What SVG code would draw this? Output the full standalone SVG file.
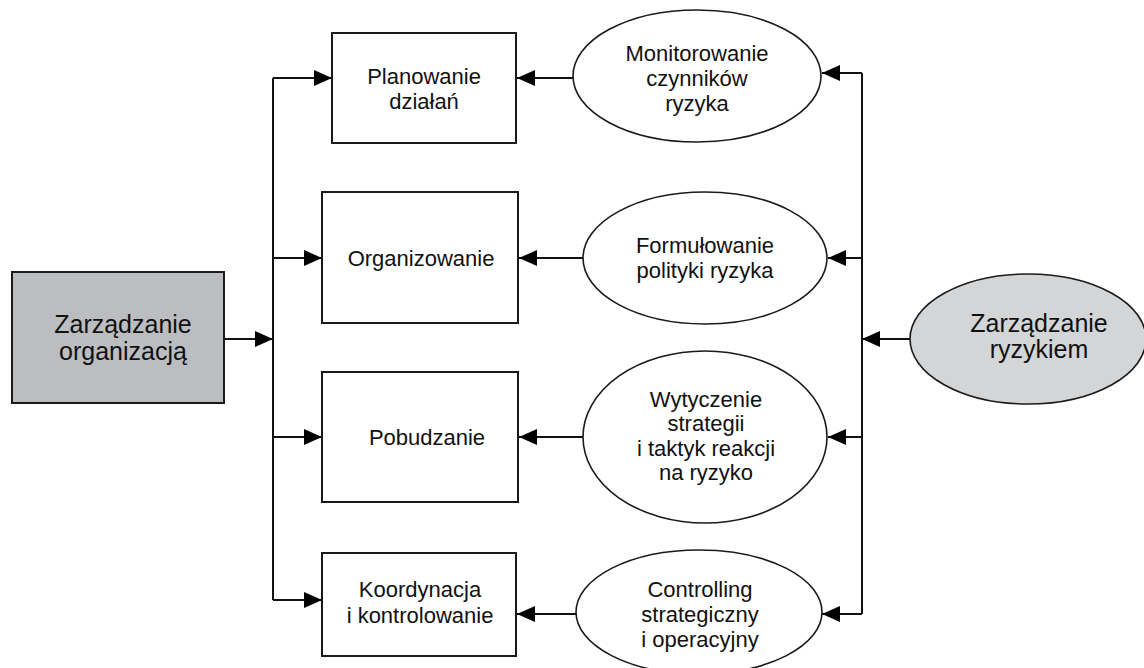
<svg xmlns="http://www.w3.org/2000/svg" width="1144" height="668" viewBox="0 0 1144 668">
<style>
.box{fill:#fff;stroke:#1a1a1a;stroke-width:2}
.el{fill:#fff;stroke:#1a1a1a;stroke-width:1.6}
.t{font-family:"Liberation Sans",Arial,sans-serif;font-size:22px;fill:#111;text-anchor:middle}
.tl{font-family:"Liberation Sans",Arial,sans-serif;font-size:25px;fill:#111;text-anchor:middle}
.c{fill:none;stroke:#111;stroke-width:2}
</style>
<defs>
<marker id="ah" markerUnits="userSpaceOnUse" markerWidth="18" markerHeight="16" refX="18" refY="8" orient="auto">
<path d="M0,0 L18,8 L0,16 z" fill="#000"/>
</marker>
</defs>
<rect width="1144" height="668" fill="#fff"/>
<g id="connectors">
<path class="c" d="M224,339 H273" marker-end="url(#ah)"/>
<path class="c" d="M273,78 V600"/>
<path class="c" d="M273,78 H332" marker-end="url(#ah)"/>
<path class="c" d="M273,258 H322" marker-end="url(#ah)"/>
<path class="c" d="M273,437 H322" marker-end="url(#ah)"/>
<path class="c" d="M273,600 H322" marker-end="url(#ah)"/>
<path class="c" d="M573,78 H517" marker-end="url(#ah)"/>
<path class="c" d="M583,258 H519" marker-end="url(#ah)"/>
<path class="c" d="M583,437 H519" marker-end="url(#ah)"/>
<path class="c" d="M576,614 H517" marker-end="url(#ah)"/>
<path class="c" d="M862,73 V614"/>
<path class="c" d="M862,73 H822" marker-end="url(#ah)"/>
<path class="c" d="M862,258 H828" marker-end="url(#ah)"/>
<path class="c" d="M862,437 H828" marker-end="url(#ah)"/>
<path class="c" d="M862,614 H822" marker-end="url(#ah)"/>
<path class="c" d="M910,339 H862" marker-end="url(#ah)"/>
</g>
<g id="zarzadzanie-organizacja">
<rect x="12" y="272" width="212" height="131" fill="#bcbdc0" stroke="#1a1a1a" stroke-width="2"/>
<text class="tl" x="123" y="333">Zarządzanie</text>
<text class="tl" x="123" y="360">organizacją</text>
</g>
<g id="planowanie">
<rect class="box" x="332" y="33" width="184" height="110"/>
<text class="t" x="424" y="84">Planowanie</text>
<text class="t" x="424" y="109">działań</text>
</g>
<g id="organizowanie">
<rect class="box" x="322" y="192" width="196" height="131"/>
<text class="t" x="421" y="266">Organizowanie</text>
</g>
<g id="pobudzanie">
<rect class="box" x="322" y="372" width="196" height="130"/>
<text class="t" x="427" y="445">Pobudzanie</text>
</g>
<g id="koordynacja">
<rect class="box" x="322" y="553" width="194" height="103"/>
<text class="t" x="420" y="597">Koordynacja</text>
<text class="t" x="420" y="623">i kontrolowanie</text>
</g>
<g id="monitorowanie">
<ellipse class="el" cx="697" cy="76" rx="124" ry="66"/>
<text class="t" x="697" y="61">Monitorowanie</text>
<text class="t" x="697" y="86">czynników</text>
<text class="t" x="697" y="111">ryzyka</text>
</g>
<g id="formulowanie">
<ellipse class="el" cx="705" cy="258" rx="122" ry="66"/>
<text class="t" x="705" y="253">Formułowanie</text>
<text class="t" x="705" y="278">polityki ryzyka</text>
</g>
<g id="wytyczenie">
<ellipse class="el" cx="705" cy="437" rx="122" ry="86"/>
<text class="t" x="706" y="407">Wytyczenie</text>
<text class="t" x="706" y="431">strategii</text>
<text class="t" x="706" y="456">i taktyk reakcji</text>
<text class="t" x="706" y="480">na ryzyko</text>
</g>
<g id="controlling">
<ellipse class="el" cx="699" cy="612" rx="123" ry="62"/>
<text class="t" x="700" y="597">Controlling</text>
<text class="t" x="700" y="622">strategiczny</text>
<text class="t" x="700" y="647">i operacyjny</text>
</g>
<g id="zarzadzanie-ryzykiem">
<ellipse cx="1028" cy="339" rx="118" ry="65" fill="#d4d5d7" stroke="#1a1a1a" stroke-width="1.6"/>
<text class="tl" x="1039" y="332">Zarządzanie</text>
<text class="tl" x="1039" y="358">ryzykiem</text>
</g>
</svg>
